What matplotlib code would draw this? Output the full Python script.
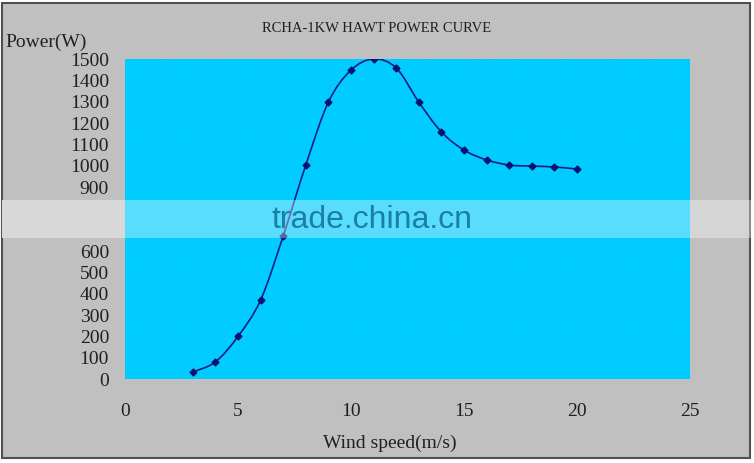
import numpy as np
import matplotlib
matplotlib.use('Agg')
import matplotlib.pyplot as plt
from matplotlib.path import Path
from matplotlib.patches import PathPatch, Rectangle

# power curve
wind_speed = [3, 4, 5, 6, 7, 8, 9, 10, 11, 12, 13, 14, 15, 16, 17, 18, 19, 20]
power = [33, 80, 200, 370, 670, 1003, 1298, 1448, 1500, 1458, 1298, 1158,
         1073, 1027, 1003, 998, 994, 984]
x_ticks = [0, 5, 10, 15, 20, 25]
y_ticks = list(range(0, 1600, 100))

plt.rcParams['font.family'] = ['Liberation Serif', 'DejaVu Serif']

fig = plt.figure(figsize=(7.54, 4.63), dpi=100, facecolor='white')
# grey frame
fig.patches.append(Rectangle((2/754, 5/463), 748/754, 455/463, transform=fig.transFigure,
                             facecolor='#c0c0c0', edgecolor='#505050', lw=1.5, zorder=-1))

ax = fig.add_axes([125/754, 84/463, 565/754, 320/463])
ax.set_facecolor('#00ccff')
for s in ax.spines.values():
    s.set_visible(False)

ax.set_xlim(0, 25)
ax.set_ylim(0, 1500)
ax.set_xticks(x_ticks)
ax.set_yticks(y_ticks)
ax.set_xticks(range(0, 26), minor=True)
ax.tick_params(length=0, which='both', labelsize=14, labelcolor='#202020')
ax.tick_params(axis='x', pad=17)
ax.tick_params(axis='y', pad=11.5)
ax.grid(True, which='both', axis='x', color='#14bff0', ls=':', lw=0.5)
ax.grid(True, which='major', axis='y', color='#14bff0', ls=':', lw=0.5)
ax.set_axisbelow(True)

# smooth line through the points (Catmull-Rom as cubic bezier, like Excel smoothing)
pts = np.column_stack([wind_speed, power]).astype(float)
ext = np.vstack([pts[0], pts, pts[-1]])
verts = [tuple(pts[0])]
codes = [Path.MOVETO]
for i in range(1, len(ext) - 2):
    p0, p1, p2, p3 = ext[i - 1], ext[i], ext[i + 1], ext[i + 2]
    verts += [tuple(p1 + (p2 - p0) / 6), tuple(p2 - (p3 - p1) / 6), tuple(p2)]
    codes += [Path.CURVE4] * 3
ax.add_patch(PathPatch(Path(verts, codes), facecolor='none', edgecolor='#101c8c', lw=1.2,
                       transform=ax.transData, zorder=3))
ax.plot(wind_speed, power, ls='none', marker='D', ms=3.5, color='#0a1470', zorder=4)

fig.text(377/754, 1 - 28/463, 'RCHA-1KW HAWT POWER CURVE', ha='center', va='center',
         fontsize=10.5, color='#202020')
fig.text(5/754, 1 - 42/463, 'Power(W)', ha='left', va='center', fontsize=14, color='#202020')
fig.text(390/754, 1 - 443/463, 'Wind speed(m/s)', ha='center', va='center', fontsize=14,
         color='#202020')

# watermark band
band_y = 1 - 238/463
band_h = 38/463
fig.patches.append(Rectangle((2/754, band_y), 123/754, band_h, transform=fig.transFigure,
                             facecolor='#d8d8d8', edgecolor='none', zorder=5))
fig.patches.append(Rectangle((125/754, band_y), 627/754, band_h, transform=fig.transFigure,
                             facecolor='white', alpha=0.35, edgecolor='none', zorder=5))
fig.text(372/754, 1 - 220/463, 'trade.china.cn', ha='center', va='center', fontsize=23,
         family=['Liberation Sans', 'DejaVu Sans'], color='#1a7fa2', zorder=6)

plt.savefig('out.png', dpi=100, facecolor=fig.get_facecolor())
